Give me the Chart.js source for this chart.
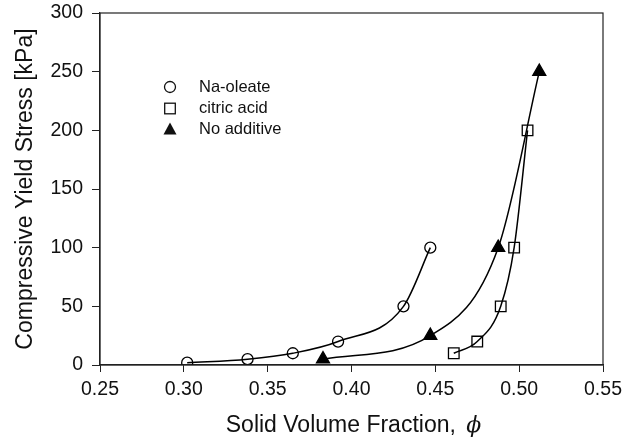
<!DOCTYPE html>
<html>
<head>
<meta charset="utf-8">
<script src="https://cdn.jsdelivr.net/npm/chart.js@4/dist/chart.umd.min.js"></script>
<style>
  html, body { margin: 0; padding: 0; background: #fff; }
  #wrap { width: 633px; height: 442px; position: relative; }
</style>
</head>
<body>
<div id="wrap"><canvas id="c" width="633" height="442"></canvas></div>
<script>
// ---- data ----
const seriesNames = ["Na-oleate", "citric acid", "No additive"];
const naOleateX = [0.302, 0.338, 0.365, 0.392, 0.431, 0.447];
const naOleateY = [2, 5, 10, 20, 50, 100];
const citricX = [0.461, 0.475, 0.489, 0.497, 0.505];
const citricY = [10, 20, 50, 100, 200];
const noAddX = [0.383, 0.447, 0.4875, 0.512];
const noAddY = [5, 25, 100, 250];
const xTicks = [0.25, 0.30, 0.35, 0.40, 0.45, 0.50, 0.55];
const yTicks = [0, 50, 100, 150, 200, 250, 300];
const xTitle = "Solid Volume Fraction, ";
const xSymbol = "\u03D5";
const yTitle = "Compressive Yield Stress [kPa]";

const pts = (xs, ys) => xs.map((x, i) => ({x: x, y: ys[i]}));
const FONT = "'Liberation Sans', Arial, sans-serif";

const framePlugin = {
  id: 'frame',
  afterDraw(chart) {
    const ctx = chart.ctx, a = chart.chartArea;
    ctx.save();
    ctx.strokeStyle = '#222';
    ctx.lineWidth = 1.2;
    ctx.strokeRect(a.left, a.top, a.right - a.left, a.bottom - a.top);
    // titles
    ctx.fillStyle = '#111';
    ctx.font = "23px " + FONT;
    ctx.textBaseline = 'alphabetic';
    const w1 = ctx.measureText(xTitle).width;
    ctx.font = "italic 22px 'DejaVu Serif', serif";
    const w2 = ctx.measureText(xSymbol).width;
    const cx = (a.left + a.right) / 2;
    let sx = cx - (w1 + w2) / 2;
    ctx.font = "23px " + FONT;
    ctx.textAlign = 'left';
    ctx.fillText(xTitle, sx, 432);
    ctx.font = "italic 22px 'DejaVu Serif', serif";
    ctx.fillText(xSymbol, sx + w1 + 4, 432);
    // y title
    ctx.save();
    ctx.translate(26, (a.top + a.bottom) / 2);
    ctx.rotate(-Math.PI / 2);
    ctx.font = "23px " + FONT;
    ctx.textAlign = 'center';
    ctx.textBaseline = 'middle';
    ctx.fillText(yTitle, 0, 0);
    ctx.restore();
    // legend
    const lx = 170, ly = [87, 108.5, 129.5];
    ctx.lineWidth = 1.3;
    ctx.strokeStyle = '#111';
    ctx.beginPath(); ctx.arc(lx, ly[0], 5.5, 0, Math.PI * 2); ctx.stroke();
    ctx.strokeRect(lx - 5.3, ly[1] - 5.3, 10.6, 10.6);
    ctx.beginPath();
    ctx.moveTo(lx, ly[2] - 7); ctx.lineTo(lx + 6.5, ly[2] + 5); ctx.lineTo(lx - 6.5, ly[2] + 5); ctx.closePath();
    ctx.fill();
    ctx.font = "16.5px " + FONT;
    ctx.textAlign = 'left';
    ctx.textBaseline = 'middle';
    seriesNames.forEach((n, i) => ctx.fillText(n, 199, ly[i]));
    ctx.restore();
  }
};

const common = {
  showLine: true,
  borderColor: '#000',
  borderWidth: 1.5,
  cubicInterpolationMode: 'monotone',
  pointBorderColor: '#000',
  pointBorderWidth: 1.3,
  pointHoverRadius: 6
};

new Chart(document.getElementById('c'), {
  type: 'scatter',
  data: {
    datasets: [
      Object.assign({}, common, {label: seriesNames[0], data: pts(naOleateX, naOleateY), pointStyle: 'circle', pointRadius: 5.5, pointBackgroundColor: 'rgba(0,0,0,0)'}),
      Object.assign({}, common, {label: seriesNames[1], data: pts(citricX, citricY), pointStyle: 'rect', pointRadius: 7.5, pointBackgroundColor: 'rgba(0,0,0,0)'}),
      Object.assign({}, common, {label: seriesNames[2], data: pts(noAddX, noAddY), pointStyle: 'triangle', pointRadius: 7.5, pointBackgroundColor: '#000'})
    ]
  },
  options: {
    responsive: false,
    animation: false,
    layout: { padding: { left: 0, top: 13, right: 30, bottom: 0 } },
    plugins: { legend: { display: false }, tooltip: { enabled: false } },
    scales: {
      x: {
        type: 'linear',
        min: xTicks[0], max: xTicks[xTicks.length - 1],
        afterBuildTicks: s => { s.ticks = xTicks.map(v => ({value: v})); },
        afterFit: s => { s.height = 77; s.paddingLeft = 0; s.paddingRight = 0; },
        grid: { drawOnChartArea: false, drawTicks: true, tickLength: 7, color: '#222' },
        border: { display: true, color: '#222', width: 1.2 },
        ticks: { color: '#111', font: { family: FONT, size: 19.5 }, padding: 6, callback: v => Number(v).toFixed(2), maxRotation: 0 }
      },
      y: {
        type: 'linear',
        min: yTicks[0], max: yTicks[yTicks.length - 1],
        afterBuildTicks: s => { s.ticks = yTicks.map(v => ({value: v})); },
        afterFit: s => { s.width = 100; s.paddingTop = 0; s.paddingBottom = 0; },
        grid: { drawOnChartArea: false, drawTicks: true, tickLength: 8, color: '#222' },
        border: { display: true, color: '#222', width: 1.2 },
        ticks: { color: '#111', font: { family: FONT, size: 19.5 }, padding: 9 }
      }
    }
  },
  plugins: [framePlugin]
});
</script>
</body>
</html>
